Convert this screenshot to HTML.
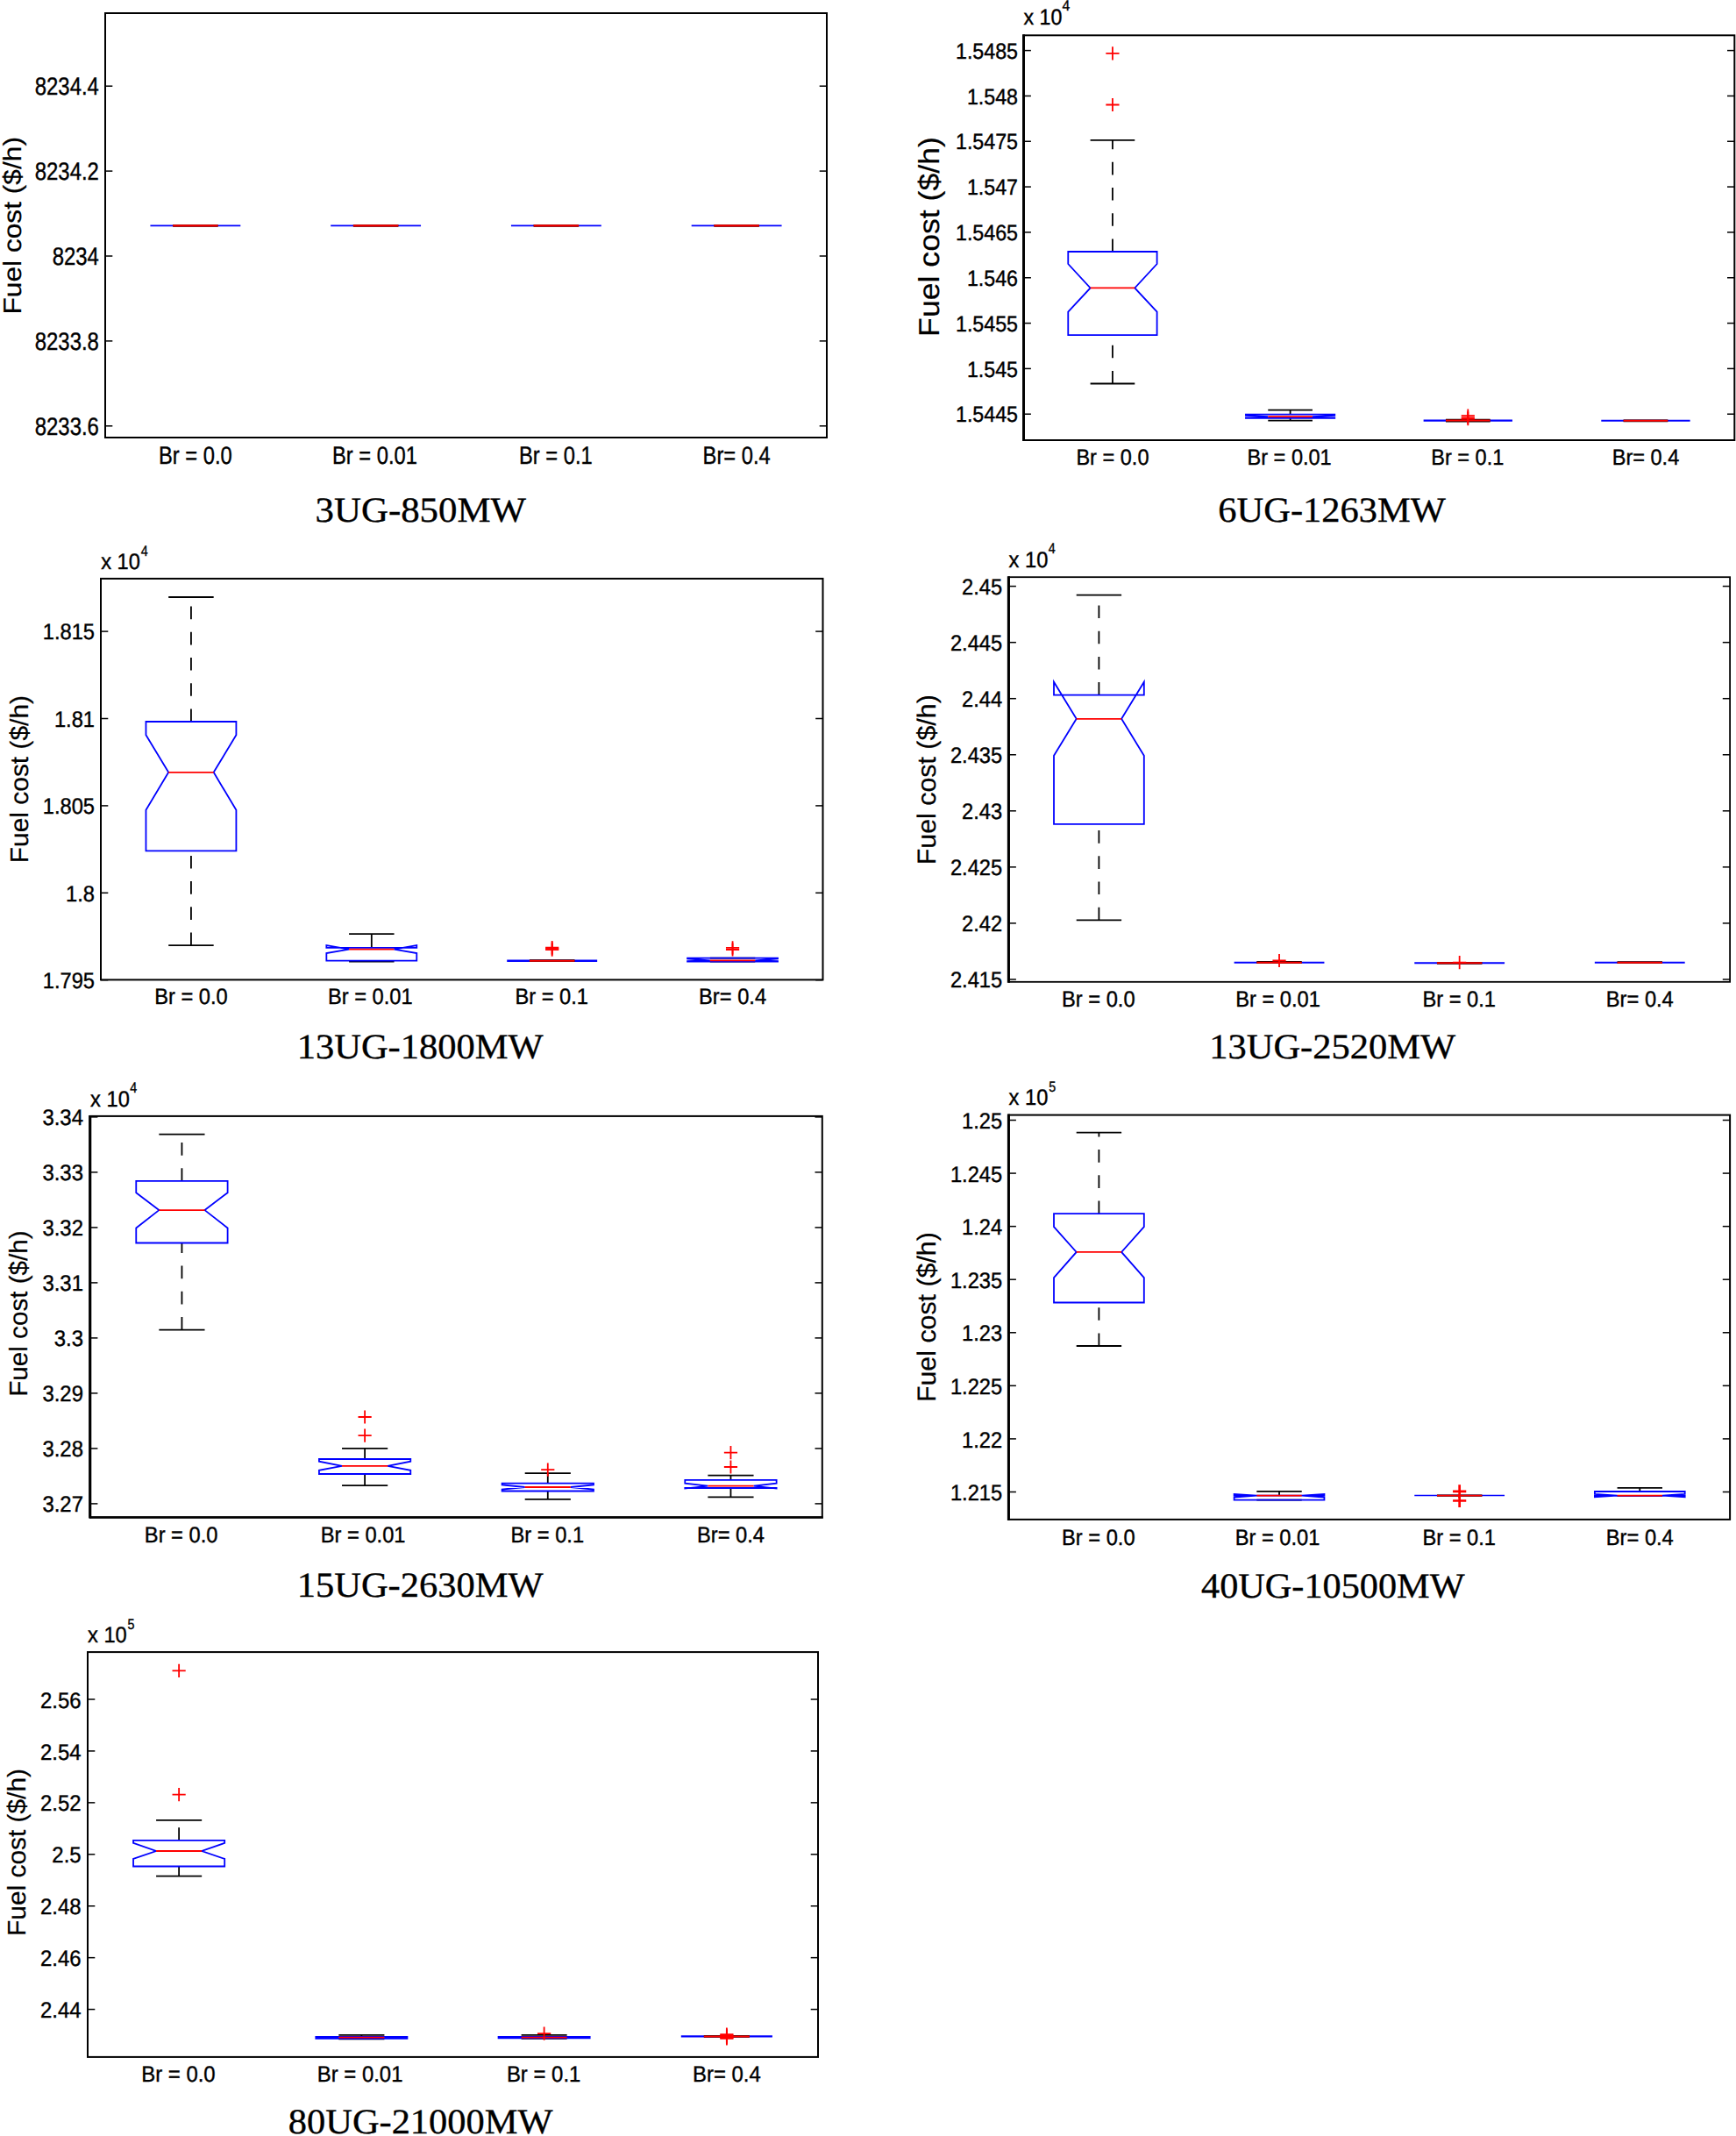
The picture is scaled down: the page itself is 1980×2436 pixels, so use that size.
<!DOCTYPE html>
<html lang="en">
<head>
<meta charset="utf-8">
<title>Fuel cost box plots</title>
<style>
html,body{margin:0;padding:0;background:#fff;}
body{width:1980px;height:2436px;overflow:hidden;}
svg{display:block;text-rendering:geometricPrecision;}
text.s{font-family:"Liberation Sans",Arial,Helvetica,sans-serif;fill:#000;stroke:#000;stroke-width:0.4px;}
text.r{font-family:"Liberation Serif","Times New Roman",Times,serif;fill:#000;stroke:#000;stroke-width:0.35px;}
</style>
</head>
<body>
<svg width="1980" height="2436" viewBox="0 0 1980 2436">
<rect x="0" y="0" width="1980" height="2436" fill="#fff"/>
<g>
<rect x="120" y="15" width="823" height="484" fill="none" stroke="#000" stroke-width="2"/>
<line x1="120" y1="98.2" x2="128.3" y2="98.2" stroke="#000000" stroke-width="1.5" stroke-linecap="butt"/>
<line x1="934.7" y1="98.2" x2="943" y2="98.2" stroke="#000000" stroke-width="1.5" stroke-linecap="butt"/>
<text class="s" transform="translate(112.9,108.4) scale(0.842,1)" font-size="28.4" text-anchor="end">8234.4</text>
<line x1="120" y1="195.1" x2="128.3" y2="195.1" stroke="#000000" stroke-width="1.5" stroke-linecap="butt"/>
<line x1="934.7" y1="195.1" x2="943" y2="195.1" stroke="#000000" stroke-width="1.5" stroke-linecap="butt"/>
<text class="s" transform="translate(112.9,205.3) scale(0.842,1)" font-size="28.4" text-anchor="end">8234.2</text>
<line x1="120" y1="292" x2="128.3" y2="292" stroke="#000000" stroke-width="1.5" stroke-linecap="butt"/>
<line x1="934.7" y1="292" x2="943" y2="292" stroke="#000000" stroke-width="1.5" stroke-linecap="butt"/>
<text class="s" transform="translate(112.9,302.2) scale(0.842,1)" font-size="28.4" text-anchor="end">8234</text>
<line x1="120" y1="388.9" x2="128.3" y2="388.9" stroke="#000000" stroke-width="1.5" stroke-linecap="butt"/>
<line x1="934.7" y1="388.9" x2="943" y2="388.9" stroke="#000000" stroke-width="1.5" stroke-linecap="butt"/>
<text class="s" transform="translate(112.9,399.1) scale(0.842,1)" font-size="28.4" text-anchor="end">8233.8</text>
<line x1="120" y1="485.8" x2="128.3" y2="485.8" stroke="#000000" stroke-width="1.5" stroke-linecap="butt"/>
<line x1="934.7" y1="485.8" x2="943" y2="485.8" stroke="#000000" stroke-width="1.5" stroke-linecap="butt"/>
<text class="s" transform="translate(112.9,496) scale(0.842,1)" font-size="28.4" text-anchor="end">8233.6</text>
<text class="s" transform="translate(24,257.3) rotate(-90) scale(1.1,1)" font-size="28.8" text-anchor="middle" style="stroke-width:0.2px">Fuel cost ($/h)</text>
<text class="s" transform="translate(222.88,529.4) scale(0.835,1)" font-size="28.4" text-anchor="middle">Br = 0.0</text>
<text class="s" transform="translate(427.43,529.4) scale(0.835,1)" font-size="28.4" text-anchor="middle">Br = 0.01</text>
<text class="s" transform="translate(633.88,529.4) scale(0.835,1)" font-size="28.4" text-anchor="middle">Br = 0.1</text>
<text class="s" transform="translate(840.12,529.4) scale(0.835,1)" font-size="28.4" text-anchor="middle">Br= 0.4</text>
<text class="r" transform="translate(359.6,595.3) scale(1.063,1)" font-size="40.3" text-anchor="start">3UG-850MW</text>
<line x1="171.44" y1="257.4" x2="274.31" y2="257.4" stroke="#0000ff" stroke-width="1.9" stroke-linecap="butt"/>
<line x1="197.16" y1="257.4" x2="248.59" y2="257.4" stroke="#000000" stroke-width="2.8" stroke-linecap="butt"/>
<line x1="197.16" y1="257.4" x2="248.59" y2="257.4" stroke="#ff0000" stroke-width="2.2" stroke-linecap="butt"/>
<line x1="377.19" y1="257.4" x2="480.06" y2="257.4" stroke="#0000ff" stroke-width="1.9" stroke-linecap="butt"/>
<line x1="402.91" y1="257.4" x2="454.34" y2="257.4" stroke="#000000" stroke-width="2.8" stroke-linecap="butt"/>
<line x1="402.91" y1="257.4" x2="454.34" y2="257.4" stroke="#ff0000" stroke-width="2.2" stroke-linecap="butt"/>
<line x1="582.94" y1="257.4" x2="685.81" y2="257.4" stroke="#0000ff" stroke-width="1.9" stroke-linecap="butt"/>
<line x1="608.66" y1="257.4" x2="660.09" y2="257.4" stroke="#000000" stroke-width="2.8" stroke-linecap="butt"/>
<line x1="608.66" y1="257.4" x2="660.09" y2="257.4" stroke="#ff0000" stroke-width="2.2" stroke-linecap="butt"/>
<line x1="788.69" y1="257.4" x2="891.56" y2="257.4" stroke="#0000ff" stroke-width="1.9" stroke-linecap="butt"/>
<line x1="814.41" y1="257.4" x2="865.84" y2="257.4" stroke="#000000" stroke-width="2.8" stroke-linecap="butt"/>
<line x1="814.41" y1="257.4" x2="865.84" y2="257.4" stroke="#ff0000" stroke-width="2.2" stroke-linecap="butt"/>
</g>
<g>
<rect x="1167.6" y="40.3" width="810.7" height="461.7" fill="none" stroke="#000" stroke-width="2"/>
<line x1="1167.5" y1="39.3" x2="1167.5" y2="503" stroke="#000000" stroke-width="2.9" stroke-linecap="butt"/>
<line x1="1167.6" y1="57.6" x2="1175.9" y2="57.6" stroke="#000000" stroke-width="1.5" stroke-linecap="butt"/>
<line x1="1970" y1="57.6" x2="1978.3" y2="57.6" stroke="#000000" stroke-width="1.5" stroke-linecap="butt"/>
<text class="s" transform="translate(1161,66.8) scale(0.918,1)" font-size="25.3" text-anchor="end">1.5485</text>
<line x1="1167.6" y1="109.43" x2="1175.9" y2="109.43" stroke="#000000" stroke-width="1.5" stroke-linecap="butt"/>
<line x1="1970" y1="109.43" x2="1978.3" y2="109.43" stroke="#000000" stroke-width="1.5" stroke-linecap="butt"/>
<text class="s" transform="translate(1161,118.63) scale(0.918,1)" font-size="25.3" text-anchor="end">1.548</text>
<line x1="1167.6" y1="161.26" x2="1175.9" y2="161.26" stroke="#000000" stroke-width="1.5" stroke-linecap="butt"/>
<line x1="1970" y1="161.26" x2="1978.3" y2="161.26" stroke="#000000" stroke-width="1.5" stroke-linecap="butt"/>
<text class="s" transform="translate(1161,170.46) scale(0.918,1)" font-size="25.3" text-anchor="end">1.5475</text>
<line x1="1167.6" y1="213.09" x2="1175.9" y2="213.09" stroke="#000000" stroke-width="1.5" stroke-linecap="butt"/>
<line x1="1970" y1="213.09" x2="1978.3" y2="213.09" stroke="#000000" stroke-width="1.5" stroke-linecap="butt"/>
<text class="s" transform="translate(1161,222.29) scale(0.918,1)" font-size="25.3" text-anchor="end">1.547</text>
<line x1="1167.6" y1="264.92" x2="1175.9" y2="264.92" stroke="#000000" stroke-width="1.5" stroke-linecap="butt"/>
<line x1="1970" y1="264.92" x2="1978.3" y2="264.92" stroke="#000000" stroke-width="1.5" stroke-linecap="butt"/>
<text class="s" transform="translate(1161,274.12) scale(0.918,1)" font-size="25.3" text-anchor="end">1.5465</text>
<line x1="1167.6" y1="316.75" x2="1175.9" y2="316.75" stroke="#000000" stroke-width="1.5" stroke-linecap="butt"/>
<line x1="1970" y1="316.75" x2="1978.3" y2="316.75" stroke="#000000" stroke-width="1.5" stroke-linecap="butt"/>
<text class="s" transform="translate(1161,325.95) scale(0.918,1)" font-size="25.3" text-anchor="end">1.546</text>
<line x1="1167.6" y1="368.58" x2="1175.9" y2="368.58" stroke="#000000" stroke-width="1.5" stroke-linecap="butt"/>
<line x1="1970" y1="368.58" x2="1978.3" y2="368.58" stroke="#000000" stroke-width="1.5" stroke-linecap="butt"/>
<text class="s" transform="translate(1161,377.78) scale(0.918,1)" font-size="25.3" text-anchor="end">1.5455</text>
<line x1="1167.6" y1="420.41" x2="1175.9" y2="420.41" stroke="#000000" stroke-width="1.5" stroke-linecap="butt"/>
<line x1="1970" y1="420.41" x2="1978.3" y2="420.41" stroke="#000000" stroke-width="1.5" stroke-linecap="butt"/>
<text class="s" transform="translate(1161,429.61) scale(0.918,1)" font-size="25.3" text-anchor="end">1.545</text>
<line x1="1167.6" y1="472.24" x2="1175.9" y2="472.24" stroke="#000000" stroke-width="1.5" stroke-linecap="butt"/>
<line x1="1970" y1="472.24" x2="1978.3" y2="472.24" stroke="#000000" stroke-width="1.5" stroke-linecap="butt"/>
<text class="s" transform="translate(1161,481.44) scale(0.918,1)" font-size="25.3" text-anchor="end">1.5445</text>
<text class="s" transform="translate(1167.5,27.6) scale(0.918,1)" font-size="25.3" text-anchor="start">x 10</text>
<text class="s" transform="translate(1211.6,12.4) scale(0.94,1)" font-size="16.8" text-anchor="start">4</text>
<text class="s" transform="translate(1070.6,270) rotate(-90) scale(1.08,1)" font-size="33" text-anchor="middle" style="stroke-width:0.2px">Fuel cost ($/h)</text>
<text class="s" transform="translate(1268.94,529.5) scale(0.93,1)" font-size="25.3" text-anchor="middle">Br = 0.0</text>
<text class="s" transform="translate(1470.61,529.5) scale(0.93,1)" font-size="25.3" text-anchor="middle">Br = 0.01</text>
<text class="s" transform="translate(1673.79,529.5) scale(0.93,1)" font-size="25.3" text-anchor="middle">Br = 0.1</text>
<text class="s" transform="translate(1876.96,529.5) scale(0.93,1)" font-size="25.3" text-anchor="middle">Br= 0.4</text>
<text class="r" transform="translate(1389.3,595.2) scale(1.054,1)" font-size="40.3" text-anchor="start">6UG-1263MW</text>
<line x1="1268.94" y1="287" x2="1268.94" y2="159.9" stroke="#000000" stroke-width="1.8" stroke-dasharray="14.6 14.6" stroke-linecap="butt"/>
<line x1="1268.94" y1="437.5" x2="1268.94" y2="382.2" stroke="#000000" stroke-width="1.8" stroke-dasharray="14.6 14.6" stroke-linecap="butt"/>
<line x1="1243.6" y1="159.9" x2="1294.27" y2="159.9" stroke="#000000" stroke-width="1.8" stroke-linecap="butt"/>
<line x1="1243.6" y1="437.5" x2="1294.27" y2="437.5" stroke="#000000" stroke-width="1.8" stroke-linecap="butt"/>
<polygon points="1218.27,382.2 1218.27,355.7 1243.6,328.4 1218.27,301 1218.27,287 1319.61,287 1319.61,301 1294.27,328.4 1319.61,355.7 1319.61,382.2" fill="none" stroke="#0000ff" stroke-width="1.8" stroke-linejoin="miter"/>
<line x1="1243.6" y1="328.4" x2="1294.27" y2="328.4" stroke="#ff0000" stroke-width="1.8" stroke-linecap="butt"/>
<path d="M1261.34 60.8H1276.54M1268.94 53.2V68.4" stroke="#ff0000" stroke-width="1.8" fill="none"/>
<path d="M1261.34 119.5H1276.54M1268.94 111.9V127.1" stroke="#ff0000" stroke-width="1.8" fill="none"/>
<line x1="1471.61" y1="472.6" x2="1471.61" y2="467.6" stroke="#000000" stroke-width="1.8" stroke-linecap="butt"/>
<line x1="1471.61" y1="479.7" x2="1471.61" y2="476.9" stroke="#000000" stroke-width="1.8" stroke-linecap="butt"/>
<line x1="1446.28" y1="467.6" x2="1496.95" y2="467.6" stroke="#000000" stroke-width="1.8" stroke-linecap="butt"/>
<line x1="1446.28" y1="479.7" x2="1496.95" y2="479.7" stroke="#000000" stroke-width="1.8" stroke-linecap="butt"/>
<polygon points="1420.94,476.9 1420.94,476.4 1446.28,475.1 1420.94,474 1420.94,472.6 1522.28,472.6 1522.28,474 1496.95,475.1 1522.28,476.4 1522.28,476.9" fill="none" stroke="#0000ff" stroke-width="1.8" stroke-linejoin="miter"/>
<line x1="1446.28" y1="475.1" x2="1496.95" y2="475.1" stroke="#ff0000" stroke-width="1.8" stroke-linecap="butt"/>
<line x1="1623.62" y1="479.6" x2="1724.96" y2="479.6" stroke="#0000ff" stroke-width="2.1" stroke-linecap="butt"/>
<line x1="1648.95" y1="478.7" x2="1699.62" y2="478.7" stroke="#000000" stroke-width="1.8" stroke-linecap="butt"/>
<line x1="1648.95" y1="480.5" x2="1699.62" y2="480.5" stroke="#000000" stroke-width="1.8" stroke-linecap="butt"/>
<line x1="1648.95" y1="479.6" x2="1699.62" y2="479.6" stroke="#ff0000" stroke-width="2" stroke-linecap="butt"/>
<path d="M1666.69 474.1H1681.89M1674.29 466.5V481.7" stroke="#ff0000" stroke-width="1.8" fill="none"/>
<path d="M1666.69 476.4H1681.89M1674.29 468.8V484" stroke="#ff0000" stroke-width="1.8" fill="none"/>
<path d="M1666.69 477.6H1681.89M1674.29 470V485.2" stroke="#ff0000" stroke-width="1.8" fill="none"/>
<line x1="1826.29" y1="479.8" x2="1927.63" y2="479.8" stroke="#0000ff" stroke-width="2.1" stroke-linecap="butt"/>
<line x1="1851.63" y1="479.8" x2="1902.3" y2="479.8" stroke="#000000" stroke-width="2.8" stroke-linecap="butt"/>
<line x1="1851.63" y1="479.8" x2="1902.3" y2="479.8" stroke="#ff0000" stroke-width="2" stroke-linecap="butt"/>
</g>
<g>
<rect x="115" y="659.9" width="823.5" height="457.5" fill="none" stroke="#000" stroke-width="2"/>
<line x1="115" y1="720.1" x2="123.3" y2="720.1" stroke="#000000" stroke-width="1.5" stroke-linecap="butt"/>
<line x1="930.2" y1="720.1" x2="938.5" y2="720.1" stroke="#000000" stroke-width="1.5" stroke-linecap="butt"/>
<text class="s" transform="translate(108,729.4) scale(0.925,1)" font-size="25.6" text-anchor="end">1.815</text>
<line x1="115" y1="819.5" x2="123.3" y2="819.5" stroke="#000000" stroke-width="1.5" stroke-linecap="butt"/>
<line x1="930.2" y1="819.5" x2="938.5" y2="819.5" stroke="#000000" stroke-width="1.5" stroke-linecap="butt"/>
<text class="s" transform="translate(108,828.8) scale(0.925,1)" font-size="25.6" text-anchor="end">1.81</text>
<line x1="115" y1="918.9" x2="123.3" y2="918.9" stroke="#000000" stroke-width="1.5" stroke-linecap="butt"/>
<line x1="930.2" y1="918.9" x2="938.5" y2="918.9" stroke="#000000" stroke-width="1.5" stroke-linecap="butt"/>
<text class="s" transform="translate(108,928.2) scale(0.925,1)" font-size="25.6" text-anchor="end">1.805</text>
<line x1="115" y1="1018.3" x2="123.3" y2="1018.3" stroke="#000000" stroke-width="1.5" stroke-linecap="butt"/>
<line x1="930.2" y1="1018.3" x2="938.5" y2="1018.3" stroke="#000000" stroke-width="1.5" stroke-linecap="butt"/>
<text class="s" transform="translate(108,1027.6) scale(0.925,1)" font-size="25.6" text-anchor="end">1.8</text>
<line x1="115" y1="1117.7" x2="123.3" y2="1117.7" stroke="#000000" stroke-width="1.5" stroke-linecap="butt"/>
<line x1="930.2" y1="1117.7" x2="938.5" y2="1117.7" stroke="#000000" stroke-width="1.5" stroke-linecap="butt"/>
<text class="s" transform="translate(108,1127) scale(0.925,1)" font-size="25.6" text-anchor="end">1.795</text>
<text class="s" transform="translate(115.2,649.3) scale(0.925,1)" font-size="25.6" text-anchor="start">x 10</text>
<text class="s" transform="translate(160.8,633.6) scale(0.85,1)" font-size="16.8" text-anchor="start">4</text>
<text class="s" transform="translate(31.7,888.6) rotate(-90) scale(1.032,1)" font-size="29" text-anchor="middle" style="stroke-width:0.2px">Fuel cost ($/h)</text>
<text class="s" transform="translate(217.94,1145.1) scale(0.925,1)" font-size="25.6" text-anchor="middle">Br = 0.0</text>
<text class="s" transform="translate(422.31,1145.1) scale(0.925,1)" font-size="25.6" text-anchor="middle">Br = 0.01</text>
<text class="s" transform="translate(629.19,1145.1) scale(0.925,1)" font-size="25.6" text-anchor="middle">Br = 0.1</text>
<text class="s" transform="translate(835.56,1145.1) scale(0.925,1)" font-size="25.6" text-anchor="middle">Br= 0.4</text>
<text class="r" transform="translate(338.7,1207.1) scale(1.055,1)" font-size="40.3" text-anchor="start">13UG-1800MW</text>
<line x1="217.94" y1="823" x2="217.94" y2="681" stroke="#000000" stroke-width="1.8" stroke-dasharray="14.6 14.6" stroke-linecap="butt"/>
<line x1="217.94" y1="1078.1" x2="217.94" y2="970.4" stroke="#000000" stroke-width="1.8" stroke-dasharray="14.6 14.6" stroke-linecap="butt"/>
<line x1="192.2" y1="681" x2="243.67" y2="681" stroke="#000000" stroke-width="1.8" stroke-linecap="butt"/>
<line x1="192.2" y1="1078.1" x2="243.67" y2="1078.1" stroke="#000000" stroke-width="1.8" stroke-linecap="butt"/>
<polygon points="166.47,970.4 166.47,923.8 192.2,880.8 166.47,838.2 166.47,823 269.41,823 269.41,838.2 243.67,880.8 269.41,923.8 269.41,970.4" fill="none" stroke="#0000ff" stroke-width="1.8" stroke-linejoin="miter"/>
<line x1="192.2" y1="880.8" x2="243.67" y2="880.8" stroke="#ff0000" stroke-width="1.8" stroke-linecap="butt"/>
<line x1="423.81" y1="1080.9" x2="423.81" y2="1065.1" stroke="#000000" stroke-width="1.8" stroke-linecap="butt"/>
<line x1="423.81" y1="1096.7" x2="423.81" y2="1095.7" stroke="#000000" stroke-width="1.8" stroke-linecap="butt"/>
<line x1="398.08" y1="1065.1" x2="449.55" y2="1065.1" stroke="#000000" stroke-width="1.8" stroke-linecap="butt"/>
<line x1="398.08" y1="1096.7" x2="449.55" y2="1096.7" stroke="#000000" stroke-width="1.8" stroke-linecap="butt"/>
<polygon points="372.34,1095.7 372.34,1087.1 398.08,1082.7 372.34,1078.1 372.34,1080.9 475.28,1080.9 475.28,1078.1 449.55,1082.7 475.28,1087.1 475.28,1095.7" fill="none" stroke="#0000ff" stroke-width="1.8" stroke-linejoin="miter"/>
<line x1="398.08" y1="1082.7" x2="449.55" y2="1082.7" stroke="#ff0000" stroke-width="1.8" stroke-linecap="butt"/>
<line x1="578.22" y1="1095.7" x2="681.16" y2="1095.7" stroke="#0000ff" stroke-width="2.6" stroke-linecap="butt"/>
<line x1="603.95" y1="1095.7" x2="655.42" y2="1095.7" stroke="#000000" stroke-width="2.8" stroke-linecap="butt"/>
<line x1="603.95" y1="1095.7" x2="655.42" y2="1095.7" stroke="#ff0000" stroke-width="2" stroke-linecap="butt"/>
<path d="M622.09 1080.7H637.29M629.69 1073.1V1088.3" stroke="#ff0000" stroke-width="1.8" fill="none"/>
<path d="M622.09 1081.9H637.29M629.69 1074.3V1089.5" stroke="#ff0000" stroke-width="1.8" fill="none"/>
<path d="M622.09 1083.1H637.29M629.69 1075.5V1090.7" stroke="#ff0000" stroke-width="1.8" fill="none"/>
<line x1="809.83" y1="1092.7" x2="861.3" y2="1092.7" stroke="#000000" stroke-width="1.8" stroke-linecap="butt"/>
<line x1="809.83" y1="1096.5" x2="861.3" y2="1096.5" stroke="#000000" stroke-width="1.8" stroke-linecap="butt"/>
<polygon points="784.09,1096.5 784.09,1096.2 809.83,1095.4 784.09,1093.4 784.09,1092.7 887.03,1092.7 887.03,1093.4 861.3,1095.4 887.03,1096.2 887.03,1096.5" fill="none" stroke="#0000ff" stroke-width="1.8" stroke-linejoin="miter"/>
<line x1="809.83" y1="1095.4" x2="861.3" y2="1095.4" stroke="#ff0000" stroke-width="1.8" stroke-linecap="butt"/>
<path d="M827.96 1080.8H843.16M835.56 1073.2V1088.4" stroke="#ff0000" stroke-width="1.8" fill="none"/>
<path d="M827.96 1083H843.16M835.56 1075.4V1090.6" stroke="#ff0000" stroke-width="1.8" fill="none"/>
</g>
<g>
<rect x="1150.6" y="658.2" width="822.5" height="461.6" fill="none" stroke="#000" stroke-width="1.8"/>
<line x1="1150.4" y1="657.2" x2="1150.4" y2="1120.8" stroke="#000000" stroke-width="3.1" stroke-linecap="butt"/>
<line x1="1150.6" y1="668.6" x2="1158.9" y2="668.6" stroke="#000000" stroke-width="1.5" stroke-linecap="butt"/>
<line x1="1964.8" y1="668.6" x2="1973.1" y2="668.6" stroke="#000000" stroke-width="1.5" stroke-linecap="butt"/>
<text class="s" transform="translate(1143.2,677.9) scale(0.925,1)" font-size="25.6" text-anchor="end">2.45</text>
<line x1="1150.6" y1="732.65" x2="1158.9" y2="732.65" stroke="#000000" stroke-width="1.5" stroke-linecap="butt"/>
<line x1="1964.8" y1="732.65" x2="1973.1" y2="732.65" stroke="#000000" stroke-width="1.5" stroke-linecap="butt"/>
<text class="s" transform="translate(1143.2,741.95) scale(0.925,1)" font-size="25.6" text-anchor="end">2.445</text>
<line x1="1150.6" y1="796.7" x2="1158.9" y2="796.7" stroke="#000000" stroke-width="1.5" stroke-linecap="butt"/>
<line x1="1964.8" y1="796.7" x2="1973.1" y2="796.7" stroke="#000000" stroke-width="1.5" stroke-linecap="butt"/>
<text class="s" transform="translate(1143.2,806) scale(0.925,1)" font-size="25.6" text-anchor="end">2.44</text>
<line x1="1150.6" y1="860.75" x2="1158.9" y2="860.75" stroke="#000000" stroke-width="1.5" stroke-linecap="butt"/>
<line x1="1964.8" y1="860.75" x2="1973.1" y2="860.75" stroke="#000000" stroke-width="1.5" stroke-linecap="butt"/>
<text class="s" transform="translate(1143.2,870.05) scale(0.925,1)" font-size="25.6" text-anchor="end">2.435</text>
<line x1="1150.6" y1="924.8" x2="1158.9" y2="924.8" stroke="#000000" stroke-width="1.5" stroke-linecap="butt"/>
<line x1="1964.8" y1="924.8" x2="1973.1" y2="924.8" stroke="#000000" stroke-width="1.5" stroke-linecap="butt"/>
<text class="s" transform="translate(1143.2,934.1) scale(0.925,1)" font-size="25.6" text-anchor="end">2.43</text>
<line x1="1150.6" y1="988.85" x2="1158.9" y2="988.85" stroke="#000000" stroke-width="1.5" stroke-linecap="butt"/>
<line x1="1964.8" y1="988.85" x2="1973.1" y2="988.85" stroke="#000000" stroke-width="1.5" stroke-linecap="butt"/>
<text class="s" transform="translate(1143.2,998.15) scale(0.925,1)" font-size="25.6" text-anchor="end">2.425</text>
<line x1="1150.6" y1="1052.9" x2="1158.9" y2="1052.9" stroke="#000000" stroke-width="1.5" stroke-linecap="butt"/>
<line x1="1964.8" y1="1052.9" x2="1973.1" y2="1052.9" stroke="#000000" stroke-width="1.5" stroke-linecap="butt"/>
<text class="s" transform="translate(1143.2,1062.2) scale(0.925,1)" font-size="25.6" text-anchor="end">2.42</text>
<line x1="1150.6" y1="1116.95" x2="1158.9" y2="1116.95" stroke="#000000" stroke-width="1.5" stroke-linecap="butt"/>
<line x1="1964.8" y1="1116.95" x2="1973.1" y2="1116.95" stroke="#000000" stroke-width="1.5" stroke-linecap="butt"/>
<text class="s" transform="translate(1143.2,1126.25) scale(0.925,1)" font-size="25.6" text-anchor="end">2.415</text>
<text class="s" transform="translate(1150.6,647) scale(0.925,1)" font-size="25.6" text-anchor="start">x 10</text>
<text class="s" transform="translate(1195.8,630.8) scale(0.85,1)" font-size="16.8" text-anchor="start">4</text>
<text class="s" transform="translate(1066.8,889.2) rotate(-90) scale(1.022,1)" font-size="29.7" text-anchor="middle" style="stroke-width:0.2px">Fuel cost ($/h)</text>
<text class="s" transform="translate(1252.81,1148.3) scale(0.925,1)" font-size="25.6" text-anchor="middle">Br = 0.0</text>
<text class="s" transform="translate(1457.54,1148.3) scale(0.925,1)" font-size="25.6" text-anchor="middle">Br = 0.01</text>
<text class="s" transform="translate(1664.16,1148.3) scale(0.925,1)" font-size="25.6" text-anchor="middle">Br = 0.1</text>
<text class="s" transform="translate(1870.29,1148.3) scale(0.925,1)" font-size="25.6" text-anchor="middle">Br= 0.4</text>
<text class="r" transform="translate(1379.2,1207.1) scale(1.055,1)" font-size="40.3" text-anchor="start">13UG-2520MW</text>
<line x1="1253.41" y1="792.7" x2="1253.41" y2="678.7" stroke="#000000" stroke-width="1.8" stroke-dasharray="14.6 14.6" stroke-linecap="butt"/>
<line x1="1253.41" y1="1049.3" x2="1253.41" y2="939.9" stroke="#000000" stroke-width="1.8" stroke-dasharray="14.6 14.6" stroke-linecap="butt"/>
<line x1="1227.71" y1="678.7" x2="1279.12" y2="678.7" stroke="#000000" stroke-width="1.8" stroke-linecap="butt"/>
<line x1="1227.71" y1="1049.3" x2="1279.12" y2="1049.3" stroke="#000000" stroke-width="1.8" stroke-linecap="butt"/>
<polygon points="1202.01,939.9 1202.01,861.8 1227.71,819.8 1202.01,777.7 1202.01,792.7 1304.82,792.7 1304.82,777.7 1279.12,819.8 1304.82,861.8 1304.82,939.9" fill="none" stroke="#0000ff" stroke-width="1.8" stroke-linejoin="miter"/>
<line x1="1227.71" y1="819.8" x2="1279.12" y2="819.8" stroke="#ff0000" stroke-width="1.8" stroke-linecap="butt"/>
<line x1="1407.63" y1="1097.7" x2="1510.44" y2="1097.7" stroke="#0000ff" stroke-width="2.1" stroke-linecap="butt"/>
<line x1="1433.33" y1="1096.8" x2="1484.74" y2="1096.8" stroke="#000000" stroke-width="1.8" stroke-linecap="butt"/>
<line x1="1433.33" y1="1098.2" x2="1484.74" y2="1098.2" stroke="#000000" stroke-width="1.8" stroke-linecap="butt"/>
<line x1="1433.33" y1="1097.7" x2="1484.74" y2="1097.7" stroke="#ff0000" stroke-width="2" stroke-linecap="butt"/>
<path d="M1451.44 1095.5H1466.64M1459.04 1087.9V1103.1" stroke="#ff0000" stroke-width="1.8" fill="none"/>
<line x1="1613.26" y1="1098.3" x2="1716.07" y2="1098.3" stroke="#0000ff" stroke-width="2.1" stroke-linecap="butt"/>
<line x1="1638.96" y1="1098.3" x2="1690.37" y2="1098.3" stroke="#000000" stroke-width="2.8" stroke-linecap="butt"/>
<line x1="1638.96" y1="1098.3" x2="1690.37" y2="1098.3" stroke="#ff0000" stroke-width="2" stroke-linecap="butt"/>
<path d="M1657.06 1097.7H1672.26M1664.66 1090.1V1105.3" stroke="#ff0000" stroke-width="1.8" fill="none"/>
<line x1="1818.88" y1="1097.7" x2="1921.69" y2="1097.7" stroke="#0000ff" stroke-width="2.1" stroke-linecap="butt"/>
<line x1="1844.58" y1="1097.7" x2="1895.99" y2="1097.7" stroke="#000000" stroke-width="2.8" stroke-linecap="butt"/>
<line x1="1844.58" y1="1097.7" x2="1895.99" y2="1097.7" stroke="#ff0000" stroke-width="2" stroke-linecap="butt"/>
</g>
<g>
<rect x="103.1" y="1272.9" width="834.7" height="457.6" fill="none" stroke="#000" stroke-width="2"/>
<line x1="102.65" y1="1271.9" x2="102.65" y2="1731.5" stroke="#000000" stroke-width="3.1" stroke-linecap="butt"/>
<line x1="102.1" y1="1730.5" x2="938.8" y2="1730.5" stroke="#000000" stroke-width="2.6" stroke-linecap="butt"/>
<line x1="103.1" y1="1273.9" x2="111.4" y2="1273.9" stroke="#000000" stroke-width="1.5" stroke-linecap="butt"/>
<line x1="929.5" y1="1273.9" x2="937.8" y2="1273.9" stroke="#000000" stroke-width="1.5" stroke-linecap="butt"/>
<text class="s" transform="translate(95,1283.4) scale(0.935,1)" font-size="25.6" text-anchor="end">3.34</text>
<line x1="103.1" y1="1336.9" x2="111.4" y2="1336.9" stroke="#000000" stroke-width="1.5" stroke-linecap="butt"/>
<line x1="929.5" y1="1336.9" x2="937.8" y2="1336.9" stroke="#000000" stroke-width="1.5" stroke-linecap="butt"/>
<text class="s" transform="translate(95,1346.4) scale(0.935,1)" font-size="25.6" text-anchor="end">3.33</text>
<line x1="103.1" y1="1399.9" x2="111.4" y2="1399.9" stroke="#000000" stroke-width="1.5" stroke-linecap="butt"/>
<line x1="929.5" y1="1399.9" x2="937.8" y2="1399.9" stroke="#000000" stroke-width="1.5" stroke-linecap="butt"/>
<text class="s" transform="translate(95,1409.4) scale(0.935,1)" font-size="25.6" text-anchor="end">3.32</text>
<line x1="103.1" y1="1462.9" x2="111.4" y2="1462.9" stroke="#000000" stroke-width="1.5" stroke-linecap="butt"/>
<line x1="929.5" y1="1462.9" x2="937.8" y2="1462.9" stroke="#000000" stroke-width="1.5" stroke-linecap="butt"/>
<text class="s" transform="translate(95,1472.4) scale(0.935,1)" font-size="25.6" text-anchor="end">3.31</text>
<line x1="103.1" y1="1525.9" x2="111.4" y2="1525.9" stroke="#000000" stroke-width="1.5" stroke-linecap="butt"/>
<line x1="929.5" y1="1525.9" x2="937.8" y2="1525.9" stroke="#000000" stroke-width="1.5" stroke-linecap="butt"/>
<text class="s" transform="translate(95,1535.4) scale(0.935,1)" font-size="25.6" text-anchor="end">3.3</text>
<line x1="103.1" y1="1588.9" x2="111.4" y2="1588.9" stroke="#000000" stroke-width="1.5" stroke-linecap="butt"/>
<line x1="929.5" y1="1588.9" x2="937.8" y2="1588.9" stroke="#000000" stroke-width="1.5" stroke-linecap="butt"/>
<text class="s" transform="translate(95,1598.4) scale(0.935,1)" font-size="25.6" text-anchor="end">3.29</text>
<line x1="103.1" y1="1651.9" x2="111.4" y2="1651.9" stroke="#000000" stroke-width="1.5" stroke-linecap="butt"/>
<line x1="929.5" y1="1651.9" x2="937.8" y2="1651.9" stroke="#000000" stroke-width="1.5" stroke-linecap="butt"/>
<text class="s" transform="translate(95,1661.4) scale(0.935,1)" font-size="25.6" text-anchor="end">3.28</text>
<line x1="103.1" y1="1714.9" x2="111.4" y2="1714.9" stroke="#000000" stroke-width="1.5" stroke-linecap="butt"/>
<line x1="929.5" y1="1714.9" x2="937.8" y2="1714.9" stroke="#000000" stroke-width="1.5" stroke-linecap="butt"/>
<text class="s" transform="translate(95,1724.4) scale(0.935,1)" font-size="25.6" text-anchor="end">3.27</text>
<text class="s" transform="translate(103.1,1261.5) scale(0.925,1)" font-size="25.6" text-anchor="start">x 10</text>
<text class="s" transform="translate(148.2,1246) scale(0.85,1)" font-size="16.8" text-anchor="start">4</text>
<text class="s" transform="translate(31,1498.1) rotate(-90) scale(1.022,1)" font-size="29" text-anchor="middle" style="stroke-width:0.2px">Fuel cost ($/h)</text>
<text class="s" transform="translate(206.64,1759) scale(0.925,1)" font-size="25.6" text-anchor="middle">Br = 0.0</text>
<text class="s" transform="translate(414.11,1759) scale(0.925,1)" font-size="25.6" text-anchor="middle">Br = 0.01</text>
<text class="s" transform="translate(624.29,1759) scale(0.925,1)" font-size="25.6" text-anchor="middle">Br = 0.1</text>
<text class="s" transform="translate(833.46,1759) scale(0.925,1)" font-size="25.6" text-anchor="middle">Br= 0.4</text>
<text class="r" transform="translate(338.7,1821.2) scale(1.055,1)" font-size="40.3" text-anchor="start">15UG-2630MW</text>
<line x1="207.44" y1="1346.9" x2="207.44" y2="1293.7" stroke="#000000" stroke-width="1.8" stroke-dasharray="14.6 14.6" stroke-linecap="butt"/>
<line x1="207.44" y1="1516.6" x2="207.44" y2="1417.5" stroke="#000000" stroke-width="1.8" stroke-dasharray="14.6 14.6" stroke-linecap="butt"/>
<line x1="181.35" y1="1293.7" x2="233.52" y2="1293.7" stroke="#000000" stroke-width="1.8" stroke-linecap="butt"/>
<line x1="181.35" y1="1516.6" x2="233.52" y2="1516.6" stroke="#000000" stroke-width="1.8" stroke-linecap="butt"/>
<polygon points="155.27,1417.5 155.27,1400.5 181.35,1380.1 155.27,1360.2 155.27,1346.9 259.61,1346.9 259.61,1360.2 233.52,1380.1 259.61,1400.5 259.61,1417.5" fill="none" stroke="#0000ff" stroke-width="1.8" stroke-linejoin="miter"/>
<line x1="181.35" y1="1380.1" x2="233.52" y2="1380.1" stroke="#ff0000" stroke-width="1.8" stroke-linecap="butt"/>
<line x1="416.11" y1="1664" x2="416.11" y2="1651.8" stroke="#000000" stroke-width="1.8" stroke-linecap="butt"/>
<line x1="416.11" y1="1694.2" x2="416.11" y2="1681" stroke="#000000" stroke-width="1.8" stroke-linecap="butt"/>
<line x1="390.03" y1="1651.8" x2="442.2" y2="1651.8" stroke="#000000" stroke-width="1.8" stroke-linecap="butt"/>
<line x1="390.03" y1="1694.2" x2="442.2" y2="1694.2" stroke="#000000" stroke-width="1.8" stroke-linecap="butt"/>
<polygon points="363.94,1681 363.94,1676.8 390.03,1671.8 363.94,1666.7 363.94,1664 468.28,1664 468.28,1666.7 442.2,1671.8 468.28,1676.8 468.28,1681" fill="none" stroke="#0000ff" stroke-width="1.8" stroke-linejoin="miter"/>
<line x1="390.03" y1="1671.8" x2="442.2" y2="1671.8" stroke="#ff0000" stroke-width="1.8" stroke-linecap="butt"/>
<path d="M408.51 1616H423.71M416.11 1608.4V1623.6" stroke="#ff0000" stroke-width="1.8" fill="none"/>
<path d="M408.51 1637.1H423.71M416.11 1629.5V1644.7" stroke="#ff0000" stroke-width="1.8" fill="none"/>
<line x1="624.79" y1="1691.7" x2="624.79" y2="1680.1" stroke="#000000" stroke-width="1.8" stroke-linecap="butt"/>
<line x1="624.79" y1="1709.8" x2="624.79" y2="1700.5" stroke="#000000" stroke-width="1.8" stroke-linecap="butt"/>
<line x1="598.7" y1="1680.1" x2="650.87" y2="1680.1" stroke="#000000" stroke-width="1.8" stroke-linecap="butt"/>
<line x1="598.7" y1="1709.8" x2="650.87" y2="1709.8" stroke="#000000" stroke-width="1.8" stroke-linecap="butt"/>
<polygon points="572.62,1700.5 572.62,1698.6 598.7,1696 572.62,1693.4 572.62,1691.7 676.96,1691.7 676.96,1693.4 650.87,1696 676.96,1698.6 676.96,1700.5" fill="none" stroke="#0000ff" stroke-width="1.8" stroke-linejoin="miter"/>
<line x1="598.7" y1="1696" x2="650.87" y2="1696" stroke="#ff0000" stroke-width="1.8" stroke-linecap="butt"/>
<path d="M617.19 1676.1H632.39M624.79 1668.5V1683.7" stroke="#ff0000" stroke-width="1.8" fill="none"/>
<line x1="833.46" y1="1687.9" x2="833.46" y2="1682.7" stroke="#000000" stroke-width="1.8" stroke-linecap="butt"/>
<line x1="833.46" y1="1707.3" x2="833.46" y2="1697" stroke="#000000" stroke-width="1.8" stroke-linecap="butt"/>
<line x1="807.38" y1="1682.7" x2="859.55" y2="1682.7" stroke="#000000" stroke-width="1.8" stroke-linecap="butt"/>
<line x1="807.38" y1="1707.3" x2="859.55" y2="1707.3" stroke="#000000" stroke-width="1.8" stroke-linecap="butt"/>
<polygon points="781.29,1697 781.29,1697.6 807.38,1694.7 781.29,1691.7 781.29,1687.9 885.63,1687.9 885.63,1691.7 859.55,1694.7 885.63,1697.6 885.63,1697" fill="none" stroke="#0000ff" stroke-width="1.8" stroke-linejoin="miter"/>
<line x1="807.38" y1="1694.7" x2="859.55" y2="1694.7" stroke="#ff0000" stroke-width="1.8" stroke-linecap="butt"/>
<path d="M825.86 1656.6H841.06M833.46 1649V1664.2" stroke="#ff0000" stroke-width="1.8" fill="none"/>
<path d="M825.86 1673H841.06M833.46 1665.4V1680.6" stroke="#ff0000" stroke-width="1.8" fill="none"/>
</g>
<g>
<rect x="1150.6" y="1271.6" width="822.5" height="461.3" fill="none" stroke="#000" stroke-width="2"/>
<line x1="1150.4" y1="1270.6" x2="1150.4" y2="1733.9" stroke="#000000" stroke-width="3" stroke-linecap="butt"/>
<line x1="1150.6" y1="1277.5" x2="1158.9" y2="1277.5" stroke="#000000" stroke-width="1.5" stroke-linecap="butt"/>
<line x1="1964.8" y1="1277.5" x2="1973.1" y2="1277.5" stroke="#000000" stroke-width="1.5" stroke-linecap="butt"/>
<text class="s" transform="translate(1143.2,1287.1) scale(0.925,1)" font-size="25.6" text-anchor="end">1.25</text>
<line x1="1150.6" y1="1338.07" x2="1158.9" y2="1338.07" stroke="#000000" stroke-width="1.5" stroke-linecap="butt"/>
<line x1="1964.8" y1="1338.07" x2="1973.1" y2="1338.07" stroke="#000000" stroke-width="1.5" stroke-linecap="butt"/>
<text class="s" transform="translate(1143.2,1347.67) scale(0.925,1)" font-size="25.6" text-anchor="end">1.245</text>
<line x1="1150.6" y1="1398.64" x2="1158.9" y2="1398.64" stroke="#000000" stroke-width="1.5" stroke-linecap="butt"/>
<line x1="1964.8" y1="1398.64" x2="1973.1" y2="1398.64" stroke="#000000" stroke-width="1.5" stroke-linecap="butt"/>
<text class="s" transform="translate(1143.2,1408.24) scale(0.925,1)" font-size="25.6" text-anchor="end">1.24</text>
<line x1="1150.6" y1="1459.21" x2="1158.9" y2="1459.21" stroke="#000000" stroke-width="1.5" stroke-linecap="butt"/>
<line x1="1964.8" y1="1459.21" x2="1973.1" y2="1459.21" stroke="#000000" stroke-width="1.5" stroke-linecap="butt"/>
<text class="s" transform="translate(1143.2,1468.81) scale(0.925,1)" font-size="25.6" text-anchor="end">1.235</text>
<line x1="1150.6" y1="1519.78" x2="1158.9" y2="1519.78" stroke="#000000" stroke-width="1.5" stroke-linecap="butt"/>
<line x1="1964.8" y1="1519.78" x2="1973.1" y2="1519.78" stroke="#000000" stroke-width="1.5" stroke-linecap="butt"/>
<text class="s" transform="translate(1143.2,1529.38) scale(0.925,1)" font-size="25.6" text-anchor="end">1.23</text>
<line x1="1150.6" y1="1580.35" x2="1158.9" y2="1580.35" stroke="#000000" stroke-width="1.5" stroke-linecap="butt"/>
<line x1="1964.8" y1="1580.35" x2="1973.1" y2="1580.35" stroke="#000000" stroke-width="1.5" stroke-linecap="butt"/>
<text class="s" transform="translate(1143.2,1589.95) scale(0.925,1)" font-size="25.6" text-anchor="end">1.225</text>
<line x1="1150.6" y1="1640.92" x2="1158.9" y2="1640.92" stroke="#000000" stroke-width="1.5" stroke-linecap="butt"/>
<line x1="1964.8" y1="1640.92" x2="1973.1" y2="1640.92" stroke="#000000" stroke-width="1.5" stroke-linecap="butt"/>
<text class="s" transform="translate(1143.2,1650.52) scale(0.925,1)" font-size="25.6" text-anchor="end">1.22</text>
<line x1="1150.6" y1="1701.49" x2="1158.9" y2="1701.49" stroke="#000000" stroke-width="1.5" stroke-linecap="butt"/>
<line x1="1964.8" y1="1701.49" x2="1973.1" y2="1701.49" stroke="#000000" stroke-width="1.5" stroke-linecap="butt"/>
<text class="s" transform="translate(1143.2,1711.09) scale(0.925,1)" font-size="25.6" text-anchor="end">1.215</text>
<text class="s" transform="translate(1150.6,1259.7) scale(0.925,1)" font-size="25.6" text-anchor="start">x 10</text>
<text class="s" transform="translate(1196.2,1244.6) scale(0.85,1)" font-size="16.8" text-anchor="start">5</text>
<text class="s" transform="translate(1066.8,1502.1) rotate(-90) scale(1.022,1)" font-size="29.7" text-anchor="middle" style="stroke-width:0.2px">Fuel cost ($/h)</text>
<text class="s" transform="translate(1252.81,1761.5) scale(0.925,1)" font-size="25.6" text-anchor="middle">Br = 0.0</text>
<text class="s" transform="translate(1457.04,1761.5) scale(0.925,1)" font-size="25.6" text-anchor="middle">Br = 0.01</text>
<text class="s" transform="translate(1664.16,1761.5) scale(0.925,1)" font-size="25.6" text-anchor="middle">Br = 0.1</text>
<text class="s" transform="translate(1870.29,1761.5) scale(0.925,1)" font-size="25.6" text-anchor="middle">Br= 0.4</text>
<text class="r" transform="translate(1370,1821.7) scale(1.049,1)" font-size="40.3" text-anchor="start">40UG-10500MW</text>
<line x1="1253.41" y1="1384.1" x2="1253.41" y2="1291.6" stroke="#000000" stroke-width="1.8" stroke-dasharray="14.6 14.6" stroke-linecap="butt"/>
<line x1="1253.41" y1="1535" x2="1253.41" y2="1485.5" stroke="#000000" stroke-width="1.8" stroke-dasharray="14.6 14.6" stroke-linecap="butt"/>
<line x1="1227.71" y1="1291.6" x2="1279.12" y2="1291.6" stroke="#000000" stroke-width="1.8" stroke-linecap="butt"/>
<line x1="1227.71" y1="1535" x2="1279.12" y2="1535" stroke="#000000" stroke-width="1.8" stroke-linecap="butt"/>
<polygon points="1202.01,1485.5 1202.01,1457.2 1227.71,1427.9 1202.01,1399.1 1202.01,1384.1 1304.82,1384.1 1304.82,1399.1 1279.12,1427.9 1304.82,1457.2 1304.82,1485.5" fill="none" stroke="#0000ff" stroke-width="1.8" stroke-linejoin="miter"/>
<line x1="1227.71" y1="1427.9" x2="1279.12" y2="1427.9" stroke="#ff0000" stroke-width="1.8" stroke-linecap="butt"/>
<line x1="1459.04" y1="1705.6" x2="1459.04" y2="1700.8" stroke="#000000" stroke-width="1.8" stroke-linecap="butt"/>
<line x1="1433.33" y1="1700.8" x2="1484.74" y2="1700.8" stroke="#000000" stroke-width="1.8" stroke-linecap="butt"/>
<line x1="1433.33" y1="1710.7" x2="1484.74" y2="1710.7" stroke="#000000" stroke-width="1.8" stroke-linecap="butt"/>
<polygon points="1407.63,1710.7 1407.63,1707.6 1433.33,1705.7 1407.63,1704 1407.63,1705.6 1510.44,1705.6 1510.44,1704 1484.74,1705.7 1510.44,1707.6 1510.44,1710.7" fill="none" stroke="#0000ff" stroke-width="1.8" stroke-linejoin="miter"/>
<line x1="1433.33" y1="1705.7" x2="1484.74" y2="1705.7" stroke="#ff0000" stroke-width="1.8" stroke-linecap="butt"/>
<line x1="1613.26" y1="1705.6" x2="1716.07" y2="1705.6" stroke="#0000ff" stroke-width="1.5" stroke-linecap="butt"/>
<line x1="1638.96" y1="1705.6" x2="1690.37" y2="1705.6" stroke="#000000" stroke-width="2.2" stroke-linecap="butt"/>
<line x1="1638.96" y1="1705.6" x2="1690.37" y2="1705.6" stroke="#ff0000" stroke-width="1.8" stroke-linecap="butt"/>
<path d="M1657.06 1700.8H1672.26M1664.66 1693.2V1708.4" stroke="#ff0000" stroke-width="2.7" fill="none"/>
<path d="M1657.06 1711.5H1672.26M1664.66 1703.9V1719.1" stroke="#ff0000" stroke-width="2.7" fill="none"/>
<line x1="1870.29" y1="1701" x2="1870.29" y2="1696.9" stroke="#000000" stroke-width="1.8" stroke-linecap="butt"/>
<line x1="1844.58" y1="1696.9" x2="1895.99" y2="1696.9" stroke="#000000" stroke-width="1.8" stroke-linecap="butt"/>
<line x1="1844.58" y1="1705.8" x2="1895.99" y2="1705.8" stroke="#000000" stroke-width="1.8" stroke-linecap="butt"/>
<polygon points="1818.88,1705.8 1818.88,1707.2 1844.58,1705.7 1818.88,1704 1818.88,1701 1921.69,1701 1921.69,1704 1895.99,1705.7 1921.69,1707.2 1921.69,1705.8" fill="none" stroke="#0000ff" stroke-width="1.8" stroke-linejoin="miter"/>
<line x1="1844.58" y1="1705.7" x2="1895.99" y2="1705.7" stroke="#ff0000" stroke-width="1.8" stroke-linecap="butt"/>
</g>
<g>
<rect x="100" y="1884.1" width="833" height="461.8" fill="none" stroke="#000" stroke-width="2"/>
<line x1="100" y1="1938" x2="108.3" y2="1938" stroke="#000000" stroke-width="1.5" stroke-linecap="butt"/>
<line x1="924.7" y1="1938" x2="933" y2="1938" stroke="#000000" stroke-width="1.5" stroke-linecap="butt"/>
<text class="s" transform="translate(92.6,1947.6) scale(0.935,1)" font-size="25.6" text-anchor="end">2.56</text>
<line x1="100" y1="1996.93" x2="108.3" y2="1996.93" stroke="#000000" stroke-width="1.5" stroke-linecap="butt"/>
<line x1="924.7" y1="1996.93" x2="933" y2="1996.93" stroke="#000000" stroke-width="1.5" stroke-linecap="butt"/>
<text class="s" transform="translate(92.6,2006.53) scale(0.935,1)" font-size="25.6" text-anchor="end">2.54</text>
<line x1="100" y1="2055.86" x2="108.3" y2="2055.86" stroke="#000000" stroke-width="1.5" stroke-linecap="butt"/>
<line x1="924.7" y1="2055.86" x2="933" y2="2055.86" stroke="#000000" stroke-width="1.5" stroke-linecap="butt"/>
<text class="s" transform="translate(92.6,2065.46) scale(0.935,1)" font-size="25.6" text-anchor="end">2.52</text>
<line x1="100" y1="2114.79" x2="108.3" y2="2114.79" stroke="#000000" stroke-width="1.5" stroke-linecap="butt"/>
<line x1="924.7" y1="2114.79" x2="933" y2="2114.79" stroke="#000000" stroke-width="1.5" stroke-linecap="butt"/>
<text class="s" transform="translate(92.6,2124.39) scale(0.935,1)" font-size="25.6" text-anchor="end">2.5</text>
<line x1="100" y1="2173.72" x2="108.3" y2="2173.72" stroke="#000000" stroke-width="1.5" stroke-linecap="butt"/>
<line x1="924.7" y1="2173.72" x2="933" y2="2173.72" stroke="#000000" stroke-width="1.5" stroke-linecap="butt"/>
<text class="s" transform="translate(92.6,2183.32) scale(0.935,1)" font-size="25.6" text-anchor="end">2.48</text>
<line x1="100" y1="2232.65" x2="108.3" y2="2232.65" stroke="#000000" stroke-width="1.5" stroke-linecap="butt"/>
<line x1="924.7" y1="2232.65" x2="933" y2="2232.65" stroke="#000000" stroke-width="1.5" stroke-linecap="butt"/>
<text class="s" transform="translate(92.6,2242.25) scale(0.935,1)" font-size="25.6" text-anchor="end">2.46</text>
<line x1="100" y1="2291.58" x2="108.3" y2="2291.58" stroke="#000000" stroke-width="1.5" stroke-linecap="butt"/>
<line x1="924.7" y1="2291.58" x2="933" y2="2291.58" stroke="#000000" stroke-width="1.5" stroke-linecap="butt"/>
<text class="s" transform="translate(92.6,2301.18) scale(0.935,1)" font-size="25.6" text-anchor="end">2.44</text>
<text class="s" transform="translate(100,1873) scale(0.925,1)" font-size="25.6" text-anchor="start">x 10</text>
<text class="s" transform="translate(145.6,1857.5) scale(0.85,1)" font-size="16.8" text-anchor="start">5</text>
<text class="s" transform="translate(28.7,2112.5) rotate(-90) scale(1.03,1)" font-size="29" text-anchor="middle" style="stroke-width:0.2px">Fuel cost ($/h)</text>
<text class="s" transform="translate(203.43,2374.4) scale(0.935,1)" font-size="25.6" text-anchor="middle">Br = 0.0</text>
<text class="s" transform="translate(410.57,2374.4) scale(0.935,1)" font-size="25.6" text-anchor="middle">Br = 0.01</text>
<text class="s" transform="translate(620.12,2374.4) scale(0.935,1)" font-size="25.6" text-anchor="middle">Br = 0.1</text>
<text class="s" transform="translate(828.88,2374.4) scale(0.935,1)" font-size="25.6" text-anchor="middle">Br= 0.4</text>
<text class="r" transform="translate(328.8,2433.4) scale(1.053,1)" font-size="40.3" text-anchor="start">80UG-21000MW</text>
<line x1="204.12" y1="2098.8" x2="204.12" y2="2075.9" stroke="#000000" stroke-width="1.8" stroke-dasharray="14.6 14.6" stroke-linecap="butt"/>
<line x1="204.12" y1="2139.7" x2="204.12" y2="2128.5" stroke="#000000" stroke-width="1.8" stroke-dasharray="14.6 14.6" stroke-linecap="butt"/>
<line x1="178.09" y1="2075.9" x2="230.16" y2="2075.9" stroke="#000000" stroke-width="1.8" stroke-linecap="butt"/>
<line x1="178.09" y1="2139.7" x2="230.16" y2="2139.7" stroke="#000000" stroke-width="1.8" stroke-linecap="butt"/>
<polygon points="152.06,2128.5 152.06,2119.9 178.09,2111 152.06,2101.9 152.06,2098.8 256.19,2098.8 256.19,2101.9 230.16,2111 256.19,2119.9 256.19,2128.5" fill="none" stroke="#0000ff" stroke-width="1.8" stroke-linejoin="miter"/>
<line x1="178.09" y1="2111" x2="230.16" y2="2111" stroke="#ff0000" stroke-width="1.8" stroke-linecap="butt"/>
<path d="M196.53 1905.4H211.72M204.12 1897.8V1913" stroke="#ff0000" stroke-width="1.8" fill="none"/>
<path d="M196.53 2046.6H211.72M204.12 2039V2054.2" stroke="#ff0000" stroke-width="1.8" fill="none"/>
<line x1="412.38" y1="2322.9" x2="412.38" y2="2320.8" stroke="#000000" stroke-width="1.8" stroke-linecap="butt"/>
<line x1="386.34" y1="2320.8" x2="438.41" y2="2320.8" stroke="#000000" stroke-width="1.8" stroke-linecap="butt"/>
<line x1="386.34" y1="2325.3" x2="438.41" y2="2325.3" stroke="#000000" stroke-width="1.8" stroke-linecap="butt"/>
<polygon points="360.31,2324.8 360.31,2324.3 386.34,2323.6 360.31,2323.3 360.31,2322.9 464.44,2322.9 464.44,2323.3 438.41,2323.6 464.44,2324.3 464.44,2324.8" fill="none" stroke="#0000ff" stroke-width="1.8" stroke-linejoin="miter"/>
<line x1="386.34" y1="2323.6" x2="438.41" y2="2323.6" stroke="#ff0000" stroke-width="1.8" stroke-linecap="butt"/>
<line x1="620.62" y1="2322.9" x2="620.62" y2="2320.8" stroke="#000000" stroke-width="1.8" stroke-linecap="butt"/>
<line x1="620.62" y1="2324.9" x2="620.62" y2="2324.3" stroke="#000000" stroke-width="1.8" stroke-linecap="butt"/>
<line x1="594.59" y1="2320.8" x2="646.66" y2="2320.8" stroke="#000000" stroke-width="1.8" stroke-linecap="butt"/>
<line x1="594.59" y1="2324.9" x2="646.66" y2="2324.9" stroke="#000000" stroke-width="1.8" stroke-linecap="butt"/>
<polygon points="568.56,2324.3 568.56,2324 594.59,2323.6 568.56,2323.2 568.56,2322.9 672.69,2322.9 672.69,2323.2 646.66,2323.6 672.69,2324 672.69,2324.3" fill="none" stroke="#0000ff" stroke-width="1.8" stroke-linejoin="miter"/>
<line x1="594.59" y1="2323.6" x2="646.66" y2="2323.6" stroke="#ff0000" stroke-width="1.8" stroke-linecap="butt"/>
<path d="M613.02 2319.1H628.23M620.62 2311.5V2326.7" stroke="#ff0000" stroke-width="1.8" fill="none"/>
<line x1="776.81" y1="2322.4" x2="880.94" y2="2322.4" stroke="#0000ff" stroke-width="2.1" stroke-linecap="butt"/>
<line x1="802.84" y1="2322.4" x2="854.91" y2="2322.4" stroke="#000000" stroke-width="2.8" stroke-linecap="butt"/>
<line x1="802.84" y1="2322.4" x2="854.91" y2="2322.4" stroke="#ff0000" stroke-width="2" stroke-linecap="butt"/>
<path d="M821.27 2320.2H836.48M828.88 2312.6V2327.8" stroke="#ff0000" stroke-width="1.8" fill="none"/>
<path d="M821.27 2321.4H836.48M828.88 2313.8V2329" stroke="#ff0000" stroke-width="1.8" fill="none"/>
<path d="M821.27 2322.6H836.48M828.88 2315V2330.2" stroke="#ff0000" stroke-width="1.8" fill="none"/>
<path d="M821.27 2323.8H836.48M828.88 2316.2V2331.4" stroke="#ff0000" stroke-width="1.8" fill="none"/>
<path d="M821.27 2324.8H836.48M828.88 2317.2V2332.4" stroke="#ff0000" stroke-width="1.8" fill="none"/>
</g>
</svg>
</body>
</html>
